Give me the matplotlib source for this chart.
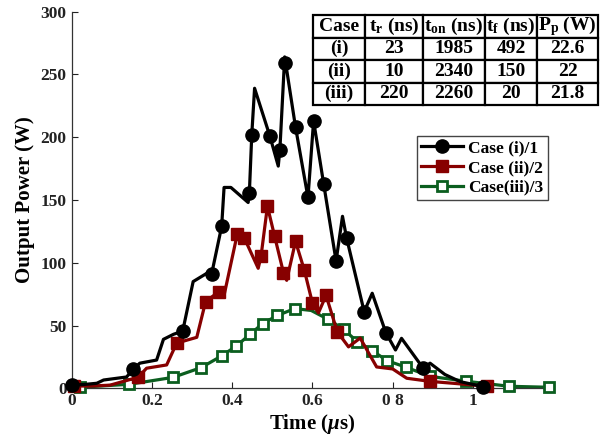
import matplotlib
matplotlib.use("Agg")
import matplotlib.pyplot as plt
from matplotlib.lines import Line2D

plt.rcParams['font.family'] = ['Liberation Serif', 'DejaVu Serif']
plt.rcParams['font.weight'] = 'bold'
plt.rcParams['mathtext.fontset'] = 'custom'
plt.rcParams['mathtext.rm'] = 'Liberation Serif:bold'
plt.rcParams['mathtext.bf'] = 'Liberation Serif:bold'
plt.rcParams['mathtext.it'] = 'Liberation Serif:italic'

# ---- case (i): line trace and marker points ----
c1_line_t = [0, 0.03, 0.063, 0.08, 0.137, 0.154, 0.17, 0.212, 0.229, 0.254, 0.277,
             0.303, 0.337, 0.349, 0.374, 0.38, 0.397, 0.44, 0.443, 0.449, 0.456,
             0.494, 0.515, 0.519, 0.531, 0.558, 0.589, 0.603, 0.628, 0.659, 0.675,
             0.685, 0.729, 0.749, 0.783, 0.807, 0.822, 0.876, 0.893, 0.93, 0.968, 1.026]
c1_line_p = [2.6, 3, 4, 6.6, 9, 15, 20, 22.5, 39, 43, 45.6,
             85, 91.6, 91, 129, 160, 160, 148, 155.6, 202, 239,
             201, 177, 190, 264, 208, 152, 213, 163, 101.4, 137,
             120, 61, 75.7, 44.3, 30.5, 39.8, 16, 20, 11, 5.3, 1.3]
c1_mark_t = [0, 0.154, 0.277, 0.349, 0.374, 0.443, 0.449, 0.494, 0.519, 0.531, 0.558,
             0.589, 0.603, 0.628, 0.659, 0.685, 0.729, 0.783, 0.876, 1.026]
c1_mark_p = [2.6, 15, 45.6, 91, 129, 155.6, 202, 201, 190, 259, 208,
             152, 213, 163, 101.4, 120, 61, 44.3, 16, 1.3]

# ---- case (ii) ----
c2_line_t = [0.005, 0.05, 0.096, 0.166, 0.187, 0.237, 0.262, 0.312, 0.334, 0.367, 0.38,
             0.413, 0.43, 0.465, 0.472, 0.488, 0.506, 0.528, 0.536, 0.558, 0.58,
             0.6, 0.615, 0.634, 0.662, 0.69, 0.719, 0.76, 0.8, 0.835, 0.893, 0.95, 1.035]
c2_line_p = [1.8, 1.8, 2.5, 8.8, 16, 18.6, 36, 40.6, 69, 77, 74,
             123, 120, 95.6, 105, 145, 121, 92, 86, 117, 94,
             68, 60, 74, 45, 33, 40, 17, 15.4, 8, 5.5, 4, 1.6]
c2_mark_t = [0.005, 0.166, 0.262, 0.334, 0.367, 0.413, 0.43, 0.472, 0.488, 0.506, 0.528,
             0.558, 0.58, 0.6, 0.634, 0.662, 0.893, 1.035]
c2_mark_p = [1.8, 8.8, 36, 69, 77, 123, 120, 105, 145, 121, 92,
             117, 94, 68, 74, 45, 5.5, 1.6]

# ---- case (iii) ----
c3_line_t = [0.021, 0.144, 0.253, 0.323, 0.375, 0.41, 0.445, 0.476, 0.513, 0.556, 0.597,
             0.64, 0.678, 0.712, 0.749, 0.786, 0.834, 0.893, 0.983, 1.09, 1.19]
c3_line_p = [0.8, 3.2, 8.7, 16.5, 26, 33.6, 43, 51.6, 58, 63.5, 62,
             54.8, 47, 37, 30, 22, 16.7, 9.5, 5.6, 1.6, 0.8]
c3_mark_t = [0.021, 0.144, 0.253, 0.323, 0.375, 0.41, 0.445, 0.476, 0.513, 0.556,
             0.64, 0.678, 0.712, 0.749, 0.786, 0.834, 0.893, 0.983, 1.09, 1.19]
c3_mark_p = [0.8, 3.2, 8.7, 16.5, 26, 33.6, 43, 51.6, 58, 63.5,
             54.8, 47, 37, 30, 22, 16.7, 9.5, 5.6, 1.6, 0.8]

labels = ['Case (i)/1', 'Case (ii)/2', 'Case(iii)/3']
col_black, col_red, col_green = 'black', '#870000', '#0b5e1f'

table_cols = ['Case', r't$_\mathrm{r}$ (ns)', r't$_\mathrm{on}$ (ns)', r't$_\mathrm{f}$ (ns)', r'P$_\mathrm{p}$ (W)']
table_rows = [['(i)', '23', '1985', '492', '22.6'],
              ['(ii)', '10', '2340', '150', '22'],
              ['(iii)', '220', '2260', '20', '21.8']]

x_ticks = [0, 0.2, 0.4, 0.6, 0.8, 1.0]
x_ticklabels = ['0', '0.2', '0.4', '0.6', '0 8', '1']
y_ticks = [0, 50, 100, 150, 200, 250, 300]

fig = plt.figure(figsize=(6.07, 4.43), dpi=100)
ax = fig.add_axes([0.1178, 0.1235, 0.7937, 0.8501])

ax.plot(c3_line_t, c3_line_p, color=col_green, lw=2.3, zorder=2, clip_on=False)
ax.plot(c3_mark_t, c3_mark_p, ls='none', marker='s', ms=7, mfc='white', mec=col_green,
        mew=2, zorder=3, clip_on=False)
ax.plot(c2_line_t, c2_line_p, color=col_red, lw=2.3, zorder=4, clip_on=False)
ax.plot(c2_mark_t, c2_mark_p, ls='none', marker='s', ms=8, color=col_red, zorder=5, clip_on=False)
ax.plot(c1_line_t, c1_line_p, color=col_black, lw=2.3, zorder=6, clip_on=False)
ax.plot(c1_mark_t, c1_mark_p, ls='none', marker='o', ms=9.5, color=col_black, zorder=7, clip_on=False)

ax.set_xlim(0, 1.2)
ax.set_ylim(0, 300)
ax.set_xticks(x_ticks)
ax.set_xticklabels(x_ticklabels)
ax.set_yticks(y_ticks)
ax.tick_params(direction='in', length=4, labelsize=12.5, width=0.8, colors='#222222',
               labelcolor='#222222')
for s in ['top', 'right']:
    ax.spines[s].set_visible(False)
for s in ['left', 'bottom']:
    ax.spines[s].set_color('#333333')
    ax.spines[s].set_linewidth(0.9)
ax.set_xlabel(r'Time ($\mu$s)', fontsize=15, fontweight='bold', labelpad=2)
ax.set_ylabel('Output Power (W)', fontsize=15, fontweight='bold', labelpad=4)

handles = [
    Line2D([], [], color=col_black, lw=2.3, marker='o', ms=9.5),
    Line2D([], [], color=col_red, lw=2.3, marker='s', ms=8),
    Line2D([], [], color=col_green, lw=2.3, marker='s', ms=7, mfc='white', mec=col_green, mew=2),
]
leg = ax.legend(handles, labels, loc='upper left', bbox_to_anchor=(0.717, 0.67),
                fancybox=False, edgecolor='#444444', handlelength=2.4,
                handletextpad=0.3, borderpad=0.25, labelspacing=0.2, borderaxespad=0,
                framealpha=1, prop={'weight': 'bold', 'size': 12.5})
leg.get_frame().set_linewidth(1.0)
leg.set_zorder(9)

tbl = ax.table(cellText=table_rows, colLabels=table_cols, cellLoc='center',
               bbox=[0.501, 0.752, 0.592, 0.239],
               colWidths=[52, 58, 62, 52, 61])
tbl.auto_set_font_size(False)
tbl.set_fontsize(14)
for (r, c), cell in tbl.get_celld().items():
    cell.set_linewidth(1.6)
    cell.get_text().set_fontweight('bold')
tbl.set_clip_on(False)
tbl.set_zorder(10)

fig.savefig('out.png', dpi=100)
